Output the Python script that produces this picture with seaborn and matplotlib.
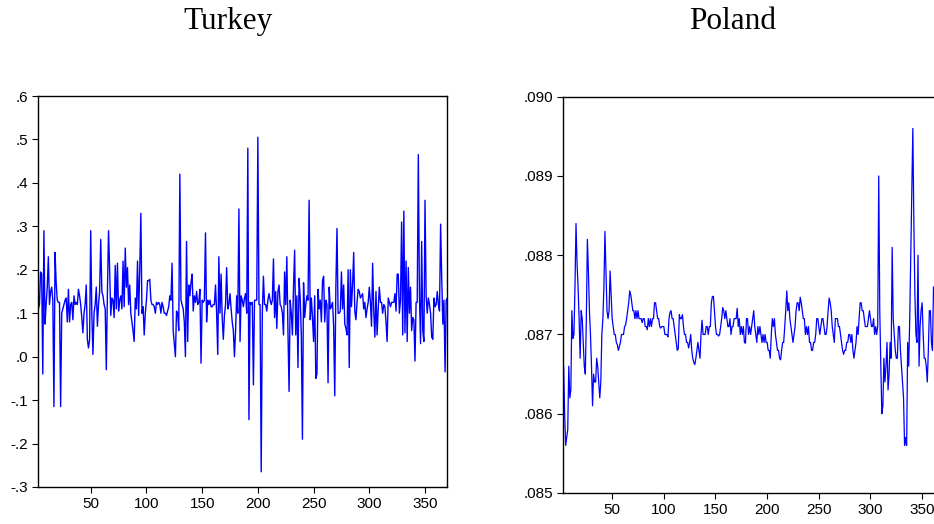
import numpy as np
import pandas as pd
import matplotlib
matplotlib.use("Agg")
import matplotlib.pyplot as plt
import seaborn as sns

# ---------------- data ----------------
turkey_start = 3
turkey = [
    0.11, 0.12, 0.195, 0.19, -0.04, 0.29, 0.075, 0.12, 0.16, 0.23,
    0.12, 0.15, 0.16, 0.13, -0.115, 0.24, 0.17, 0.13, 0.125, 0.125,
    -0.115, 0.10, 0.11, 0.12, 0.13, 0.135, 0.08, 0.155, 0.08, 0.12,
    0.125, 0.085, 0.14, 0.12, 0.125, 0.12, 0.155, 0.14, 0.12, 0.09,
    0.055, 0.10, 0.12, 0.165, 0.04, 0.02, 0.04, 0.29, 0.10, 0.005,
    0.10, 0.12, 0.16, 0.07, 0.12, 0.15, 0.27, 0.15, 0.14, 0.12,
    0.11, -0.03, 0.15, 0.29, 0.20, 0.095, 0.135, 0.13, 0.09, 0.21,
    0.11, 0.215, 0.105, 0.13, 0.14, 0.11, 0.22, 0.115, 0.25, 0.16,
    0.205, 0.12, 0.165, 0.10, 0.08, 0.06, 0.035, 0.135, 0.11, 0.22,
    0.095, 0.20, 0.33, 0.10, 0.115, 0.05, 0.10, 0.13, 0.175, 0.175,
    0.178, 0.13, 0.12, 0.12, 0.115, 0.10, 0.125, 0.12, 0.125, 0.12,
    0.10, 0.125, 0.115, 0.10, 0.10, 0.095, 0.105, 0.115, 0.14, 0.13,
    0.215, 0.06, 0.03, 0.00, 0.105, 0.10, 0.06, 0.42, 0.13, 0.12,
    0.11, 0.08, 0.00, 0.265, 0.035, 0.165, 0.14, 0.17, 0.19, 0.105,
    0.14, 0.125, 0.15, 0.12, 0.125, 0.155, -0.015, 0.13, 0.125, 0.13,
    0.285, 0.08, 0.13, 0.12, 0.13, 0.115, 0.115, 0.12, 0.12, 0.165,
    0.10, 0.005, 0.23, 0.10, 0.19, 0.09, 0.04, 0.095, 0.12, 0.205,
    0.11, 0.12, 0.145, 0.11, 0.08, 0.06, 0.00, 0.06, 0.14, 0.10,
    0.34, 0.035, 0.14, 0.13, 0.115, 0.135, 0.145, 0.10, 0.48, -0.145,
    0.125, 0.12, 0.125, -0.065, 0.13, 0.13, 0.13, 0.505, 0.12, 0.12,
    -0.265, 0.10, 0.185, 0.12, 0.12, 0.105, 0.13, 0.145, 0.13, 0.12,
    0.13, 0.225, 0.09, 0.15, 0.065, 0.15, 0.165, 0.12, 0.115, 0.10,
    0.05, 0.195, 0.12, 0.23, 0.06, -0.08, 0.13, 0.10, 0.05, 0.16,
    0.245, 0.05, 0.14, -0.025, 0.18, 0.135, 0.05, -0.19, 0.17, 0.09,
    0.12, 0.14, 0.13, 0.36, 0.085, 0.135, 0.09, 0.035, 0.14, -0.05,
    -0.04, 0.155, 0.11, 0.13, 0.08, 0.175, 0.185, 0.08, 0.13, 0.12,
    -0.06, 0.16, 0.11, 0.115, 0.125, 0.07, -0.09, 0.16, 0.295, 0.10,
    0.10, 0.105, 0.195, 0.11, 0.165, 0.075, 0.065, 0.05, 0.20, -0.025,
    0.20, 0.115, 0.165, 0.24, 0.105, 0.085, 0.125, 0.155, 0.15, 0.135,
    0.14, 0.145, 0.11, 0.125, 0.09, 0.11, 0.125, 0.16, 0.125, 0.07,
    0.215, 0.105, 0.045, 0.15, 0.05, 0.11, 0.16, 0.125, 0.125, 0.10,
    0.12, 0.115, 0.08, 0.035, 0.135, 0.125, 0.115, 0.125, 0.125, 0.125,
    0.145, 0.105, 0.19, 0.19, 0.10, 0.13, 0.31, 0.05, 0.335, 0.055,
    0.22, 0.035, 0.205, 0.10, 0.16, 0.06, 0.09, 0.085, -0.01, 0.125,
    0.125, 0.465, 0.14, 0.03, 0.265, 0.06, 0.035, 0.36, 0.14, 0.10,
    0.135, 0.12, 0.10, 0.045, 0.04, 0.135, 0.115, 0.12, 0.15, 0.12,
    0.105, 0.305, 0.18, 0.075, 0.13, -0.035, 0.13, 0.135,
]

poland_start = 3
poland = [
    0.0866, 0.0860, 0.0856, 0.0857, 0.0858, 0.0866, 0.0862, 0.0863, 0.0873, 0.08695,
    0.0870, 0.0876, 0.0884, 0.0879, 0.0876, 0.0872, 0.0867, 0.0873, 0.0872, 0.0869,
    0.0866, 0.0865, 0.0872, 0.0882, 0.0878, 0.0873, 0.0870, 0.0866, 0.0861, 0.0865,
    0.0864, 0.0864, 0.0867, 0.0866, 0.0864, 0.0862, 0.0864, 0.0870, 0.0872, 0.0876,
    0.0883, 0.0878, 0.0873, 0.0872, 0.0873, 0.0878, 0.0875, 0.0872, 0.0871, 0.0870,
    0.0870, 0.0869, 0.08687, 0.0868, 0.08685, 0.0869, 0.0870, 0.0870, 0.0870, 0.0871,
    0.08712, 0.0872, 0.0873, 0.0874, 0.08755, 0.0875, 0.0874, 0.0873, 0.0873, 0.0872,
    0.0873, 0.0872, 0.0873, 0.0872, 0.0872, 0.0872, 0.08715, 0.0872, 0.0872, 0.0871,
    0.0871, 0.08706, 0.0872, 0.0871, 0.0872, 0.0871, 0.0872, 0.0872, 0.0874, 0.0874,
    0.0873, 0.0872, 0.0872, 0.0871, 0.08708, 0.0871, 0.0871, 0.0871, 0.0870, 0.0870,
    0.0870, 0.08697, 0.0872, 0.08728, 0.0873, 0.0872, 0.0872, 0.0871, 0.0870, 0.0869,
    0.0868, 0.08682, 0.08725, 0.0872, 0.0872, 0.08725, 0.0871, 0.0870, 0.0870, 0.0869,
    0.0869, 0.08683, 0.0869, 0.0870, 0.0868, 0.0867, 0.08665, 0.08662, 0.0867, 0.0868,
    0.0869, 0.0868, 0.0867, 0.0870, 0.08718, 0.0870, 0.0870, 0.0870, 0.0871, 0.0871,
    0.0870, 0.0871, 0.0871, 0.0874, 0.08748, 0.08748, 0.0873, 0.0871, 0.0870, 0.0870,
    0.08698, 0.0870, 0.0871, 0.0872, 0.08734, 0.0873, 0.0872, 0.0873, 0.0872, 0.0871,
    0.0871, 0.0872, 0.0870, 0.0871, 0.0871, 0.0872, 0.0872, 0.0872, 0.08733, 0.0871,
    0.0872, 0.0870, 0.0871, 0.0870, 0.0871, 0.0869, 0.08689, 0.0872, 0.0872, 0.0870,
    0.0871, 0.0870, 0.0871, 0.0872, 0.0873, 0.0871, 0.0870, 0.0869, 0.0871, 0.0870,
    0.0871, 0.0870, 0.0869, 0.0870, 0.0869, 0.0870, 0.0869, 0.0869, 0.0868, 0.0868,
    0.0867, 0.0870, 0.0872, 0.0871, 0.0872, 0.0870, 0.0869, 0.0868, 0.0868, 0.0867,
    0.08668, 0.0868, 0.0869, 0.0869, 0.0871, 0.0873, 0.08755, 0.0873, 0.0874, 0.0872,
    0.0871, 0.0870, 0.0869, 0.0870, 0.0871, 0.0873, 0.0874, 0.0874, 0.0873, 0.08747,
    0.0874, 0.0873, 0.0872, 0.0872, 0.0870, 0.0871, 0.0870, 0.0871, 0.0869, 0.0869,
    0.0868, 0.0868, 0.0869, 0.0869, 0.0870, 0.0872, 0.0872, 0.0871, 0.0870, 0.0871,
    0.0872, 0.0872, 0.0871, 0.0870, 0.0870, 0.0871, 0.0873, 0.08746, 0.0874, 0.0873,
    0.0871, 0.0870, 0.0869, 0.0872, 0.0872, 0.0872, 0.0871, 0.0871, 0.0870, 0.0869,
    0.0868, 0.08675, 0.0868, 0.0868, 0.0869, 0.0869, 0.0870, 0.0870, 0.0869, 0.0870,
    0.0868, 0.0867, 0.0868, 0.0869, 0.0871, 0.0870, 0.0872, 0.0874, 0.0874, 0.0873,
    0.0873, 0.0872, 0.0871, 0.0871, 0.0871, 0.0872, 0.0873, 0.0872, 0.0871, 0.0871,
    0.0872, 0.0870, 0.0871, 0.0870, 0.0871, 0.0890, 0.0873, 0.0866, 0.0860, 0.0861,
    0.0867, 0.0864, 0.0866, 0.0869, 0.0863, 0.0865, 0.0869, 0.0867, 0.0881, 0.0872,
    0.0870, 0.0868, 0.0867, 0.0867, 0.0871, 0.0871, 0.0868, 0.0866, 0.0864, 0.0862,
    0.0856, 0.0857, 0.0856, 0.0869, 0.0866, 0.0872, 0.0880, 0.0888, 0.0896, 0.0884,
    0.0875, 0.0870, 0.0869, 0.0880, 0.0866, 0.0871, 0.0873, 0.0874, 0.0870, 0.0867,
    0.0867, 0.0866, 0.0864, 0.0868, 0.0873, 0.0873, 0.0869, 0.0868, 0.0876, 0.0875,
]

x_ticks = [50, 100, 150, 200, 250, 300, 350]
x_tick_labels = ["50", "100", "150", "200", "250", "300", "350"]
turkey_yticks = [0.6, 0.5, 0.4, 0.3, 0.2, 0.1, 0.0, -0.1, -0.2, -0.3]
turkey_ylabels = [".6", ".5", ".4", ".3", ".2", ".1", ".0", "-.1", "-.2", "-.3"]
poland_yticks = [0.090, 0.089, 0.088, 0.087, 0.086, 0.085]
poland_ylabels = [".090", ".089", ".088", ".087", ".086", ".085"]
titles = ["Turkey", "Poland"]

df_t = pd.DataFrame({"obs": np.arange(turkey_start, turkey_start + len(turkey)),
                     "value": turkey})
df_p = pd.DataFrame({"obs": np.arange(poland_start, poland_start + len(poland)),
                     "value": poland})

# ---------------- style ----------------
sns.set_style("ticks")
plt.rcParams["font.family"] = ["Liberation Sans", "DejaVu Sans"]

W, H = 934, 524
fig = plt.figure(figsize=(W / 100, H / 100), dpi=100)

def frac(l, t, r, b):
    return [l / W, 1 - b / H, (r - l) / W, (b - t) / H]

ax1 = fig.add_axes(frac(38, 96, 447.3, 487))
ax2 = fig.add_axes(frac(563.3, 96.7, 942.8, 493))

xlim = (2.7, 370)

for ax, df, yt, yl, ylim, lw in [
    (ax1, df_t, turkey_yticks, turkey_ylabels, (-0.3, 0.6), 1.0),
    (ax2, df_p, poland_yticks, poland_ylabels, (0.085, 0.090), 0.9),
]:
    sns.lineplot(data=df, x="obs", y="value", ax=ax, color="#0000FF",
                 linewidth=lw, estimator=None, legend=False)
    ax.set_xlim(*xlim)
    ax.set_ylim(*ylim)
    ax.set_xticks(x_ticks)
    ax.set_xticklabels(x_tick_labels)
    ax.set_yticks(yt)
    ax.set_yticklabels(yl)
    ax.set_xlabel("")
    ax.set_ylabel("")
    for s in ax.spines.values():
        s.set_visible(True)
        s.set_color("black")
        s.set_linewidth(1.0)
    ax.tick_params(axis="both", direction="out", length=4.5, width=0.8,
                   colors="black", labelsize=11, pad=2.5,
                   top=False, right=False)
    ax.tick_params(axis="x", pad=3)
    ax.grid(False)

title_font = dict(family=["Liberation Serif", "DejaVu Serif"], fontsize=22.5,
                  color="black", ha="center", va="baseline")
fig.text(227.5 / W, 1 - 29 / H, titles[0], **title_font)
fig.text(733 / W, 1 - 29 / H, titles[1], **title_font)

fig.savefig("out.png", dpi=100, facecolor="white")
